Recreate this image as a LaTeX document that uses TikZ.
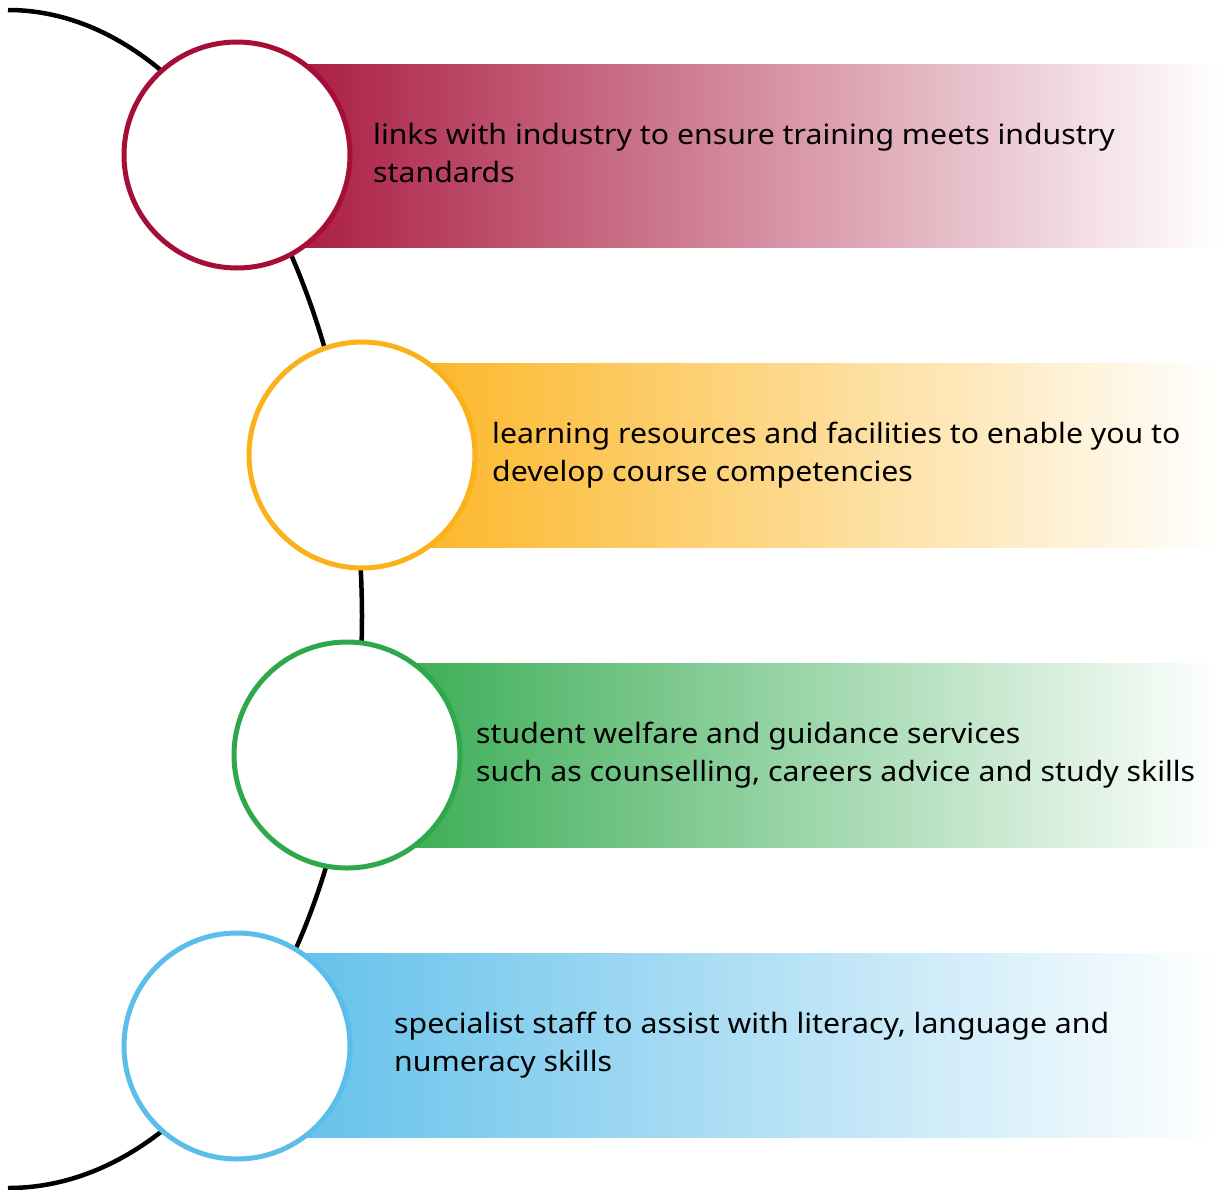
\documentclass[tikz,border=0pt]{standalone}
\usepackage{fontspec}
\setmainfont{Noto Sans}[FakeStretch=1.08]
\definecolor{cred}{HTML}{A50F37}
\definecolor{cyel}{HTML}{FBB21A}
\definecolor{cgrn}{HTML}{2FA84B}
\definecolor{cblu}{HTML}{5BBDE9}
\begin{document}
\begin{tikzpicture}[x=1pt,y=-1pt,
  ring/.style={circle,draw=#1,line width=5pt,fill=white,minimum size=226pt,inner sep=0pt},
  band/.style={left color=#1,right color=white,draw=none},
  label/.style={anchor=west,align=left,inner sep=0pt,font=\fontsize{28}{38}\selectfont,text=black}]
\useasboundingbox (0,0) rectangle (1220,1189);
% arc
\coordinate (top) at (8,10);
\coordinate (mid) at (362,615);
\coordinate (bot) at (8,1188);
\draw[line width=4.5pt] (top) .. controls (200,10) and (360,278) .. (mid)
  .. controls (362,931.5) and (203.5,1188) .. (bot);
% bands
\shade[band=cred] (237,64) rectangle (1220,247);
\shade[band=cyel] (362,363) rectangle (1220,547);
\shade[band=cgrn] (347,663) rectangle (1220,847);
\shade[band=cblu] (237,953) rectangle (1220,1137);
% circles
\node[ring=cred] (c1) at (237,155) {};
\node[ring=cyel] (c2) at (362,455) {};
\node[ring=cgrn] (c3) at (347,755) {};
\node[ring=cblu] (c4) at (237,1046) {};
% texts
\node[label] (t1) at (373,153) {links with industry to ensure training meets industry\\standards};
\node[label] (t2) at (492,455) {learning resources and facilities to enable you to\\develop course competencies};
\node[label] (t3) at (476,755) {student welfare and guidance services\\such as counselling, careers advice and study skills};
\node[label] (t4) at (394,1045) {specialist staff to assist with literacy, language and\\numeracy skills};
\end{tikzpicture}
\end{document}
